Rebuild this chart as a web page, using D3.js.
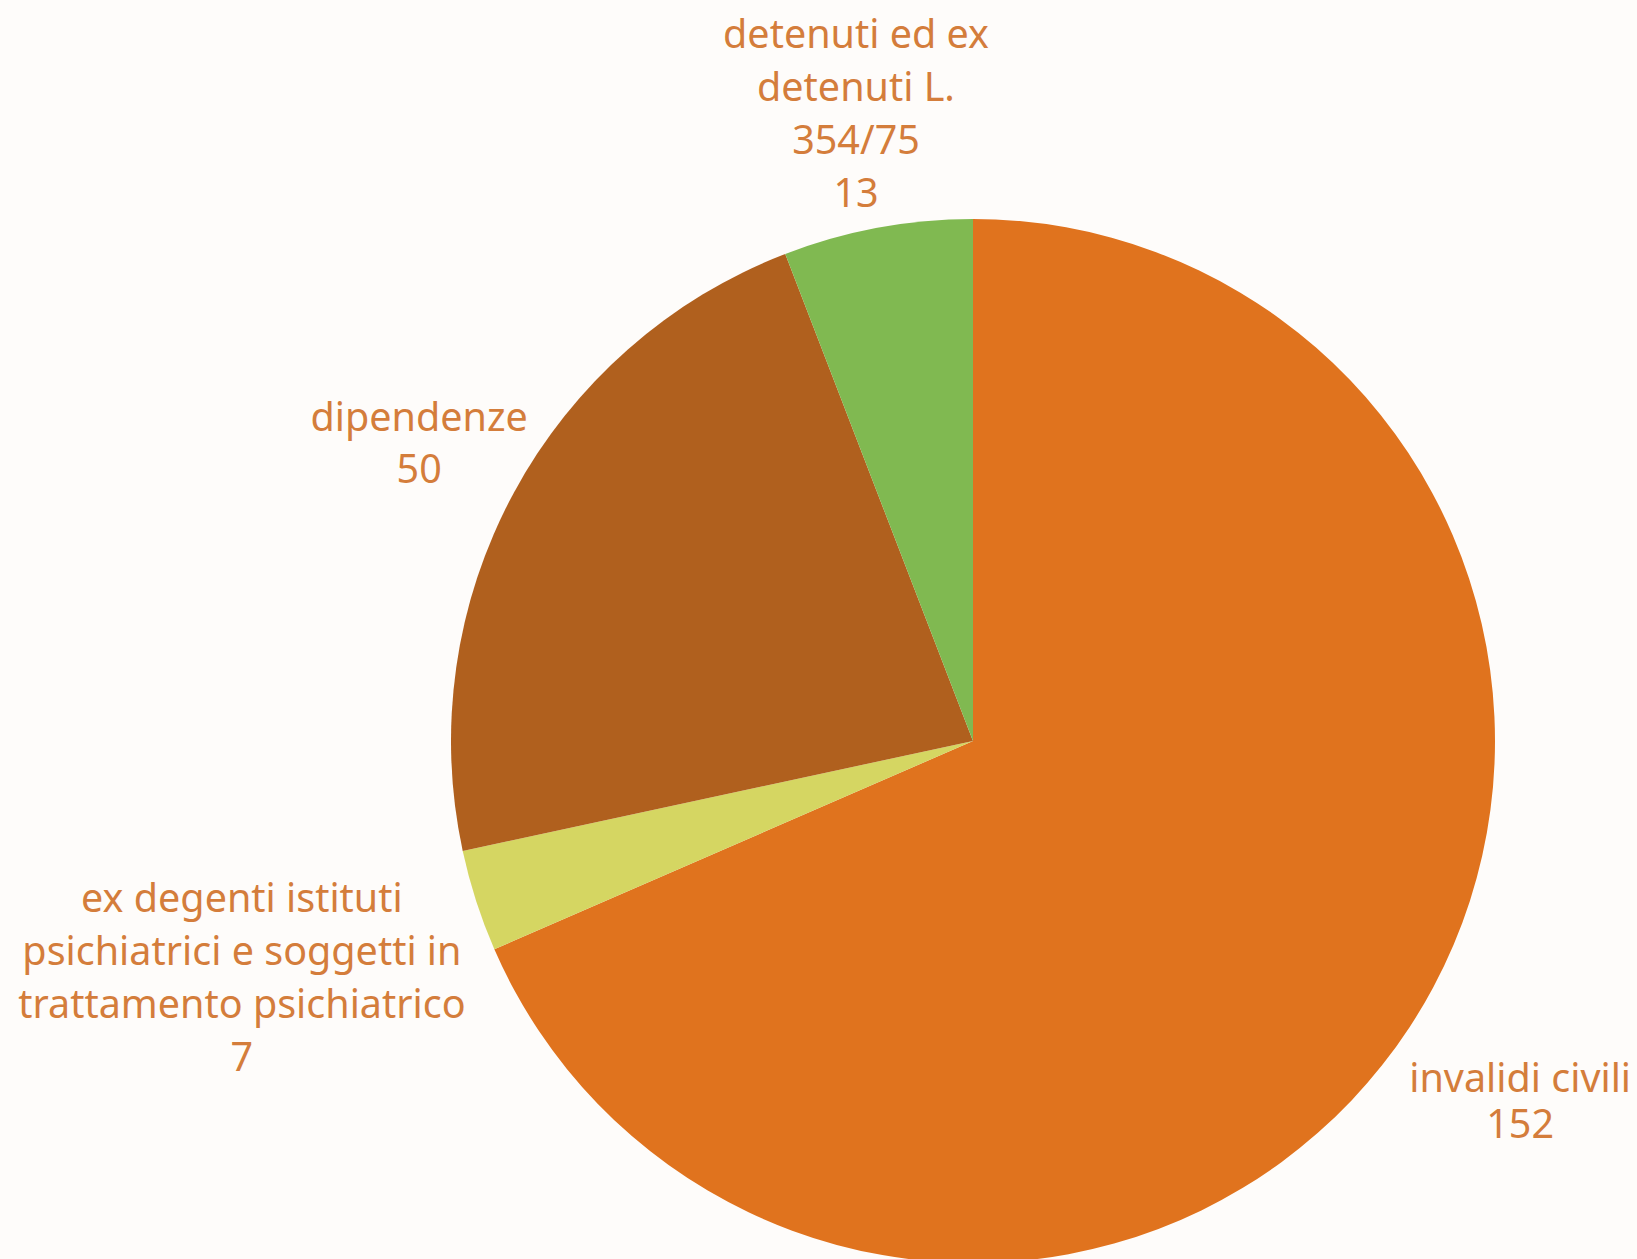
<!DOCTYPE html>
<html>
<head>
<meta charset="utf-8">
<script src="https://cdn.jsdelivr.net/npm/d3@7/dist/d3.min.js"></script>
<style>
  html, body { margin: 0; padding: 0; background: #FEFCFA; }
  svg { display: block; }
</style>
</head>
<body>
<svg id="chart" width="1637" height="1259"></svg>
<script>
// Categories (label lines) and values, clockwise from 12 o'clock
const categories = [
  ["invalidi civili"],
  ["ex degenti istituti", "psichiatrici e soggetti in", "trattamento psichiatrico"],
  ["dipendenze"],
  ["detenuti ed ex", "detenuti L.", "354/75"]
];
const values = [152, 7, 50, 13];
const colors = ["#E0731E", "#D5D662", "#B0601E", "#80B951"];

// Layout settings
const W = 1637, H = 1259;
const cx = 973, cy = 741, R = 522;
const labelGap = [41, 11, -4, 9];
const lineHeights = [46, 53, 52, 53];
const fontSize = 39.5;

const svg = d3.select("#chart");
svg.append("rect").attr("width", W).attr("height", H).attr("fill", "#FEFCFA");

const pie = d3.pie().sort(null).value(d => d)(values);
const arc = d3.arc().innerRadius(0).outerRadius(R);

const g = svg.append("g").attr("transform", `translate(${cx},${cy})`);
g.selectAll("path.slice")
  .data(pie)
  .join("path")
  .attr("class", "slice")
  .attr("d", arc)
  .attr("fill", (d, i) => colors[i]);

// Data labels: category lines followed by the value, centred as a block
// just outside the slice along its mid angle
const labels = g.selectAll("text.lbl")
  .data(pie)
  .join("text")
  .attr("class", "lbl")
  .attr("text-anchor", "middle")
  .attr("font-family", "'Noto Sans', sans-serif")
  .attr("font-size", fontSize)
  .attr("fill", "#D47D3B");

labels.each(function(d, i) {
  const t = d3.select(this);
  const lines = categories[i].concat([String(values[i])]);
  lines.forEach((s, k) => {
    t.append("tspan").attr("x", 0).attr("y", k * lineHeights[i]).text(s);
  });
  const bb = this.getBBox();
  const mid = (d.startAngle + d.endAngle) / 2;
  const sx = Math.sin(mid), sy = -Math.cos(mid);
  const ext = Math.min(
    Math.abs(sx) > 1e-6 ? (bb.width / 2) / Math.abs(sx) : Infinity,
    Math.abs(sy) > 1e-6 ? (bb.height / 2) / Math.abs(sy) : Infinity
  );
  const dist = R + labelGap[i] + ext;
  const bx = sx * dist, by = sy * dist;
  const ox = bx - (bb.x + bb.width / 2);
  const oy = by - (bb.y + bb.height / 2);
  t.attr("transform", `translate(${ox},${oy})`);
});
</script>
</body>
</html>
